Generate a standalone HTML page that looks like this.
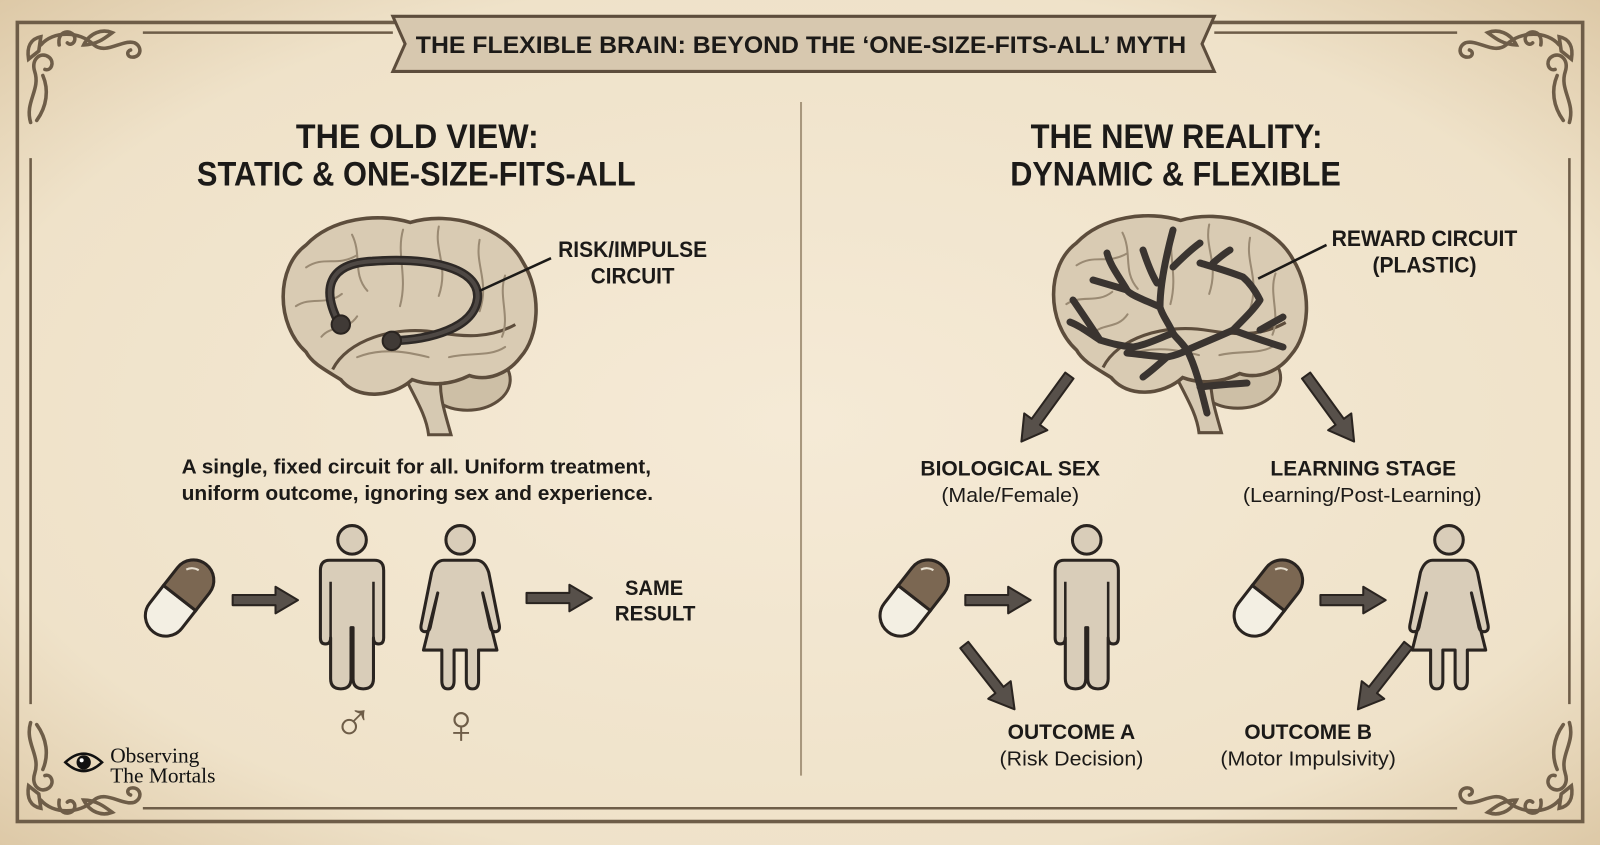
<!DOCTYPE html>
<html><head><meta charset="utf-8"><style>
html,body{margin:0;padding:0;width:1600px;height:845px;overflow:hidden;background:#efe3cd}
svg{display:block}
.h{font-family:"Liberation Sans",sans-serif;font-weight:bold;fill:#1c1a18;text-anchor:middle}
.n{font-family:"Liberation Sans",sans-serif;fill:#1c1a18;text-anchor:middle}
.orn{fill:none;stroke:#6e5d48;stroke-width:3.5;stroke-linecap:round}
.sul{fill:none;stroke:#9a8a73;stroke-width:2;stroke-linecap:round}
</style></head><body>
<svg width="1600" height="845" viewBox="0 0 1568 828" preserveAspectRatio="none" xmlns="http://www.w3.org/2000/svg">
<defs>
<radialGradient id="bg" cx="50%" cy="50%" r="75%">
<stop offset="0" stop-color="#f5ead6"/><stop offset="0.7" stop-color="#efe2c9"/><stop offset="1" stop-color="#d9c39f"/>
</radialGradient>
<g id="pill">
<g transform="rotate(-52)">
<path d="M0,-20 H-22 A20,20 0 0 0 -22,20 H0 Z" fill="#f3efe3" stroke="#2a2420" stroke-width="3"/>
<path d="M0,-20 H22 A20,20 0 0 1 22,20 H0 Z" fill="#7b6752" stroke="#2a2420" stroke-width="3"/>
<path d="M26,-12 A12,12 0 0 1 33,-2" fill="none" stroke="#e8e0d0" stroke-width="2"/>
</g>
</g>
<g id="man" fill="#d9cdb9" stroke="#2a2420" stroke-width="3" stroke-linejoin="round">
<circle cx="0" cy="14" r="14"/>
<path d="M-22,34 H22 Q31,34 31,44 V110 Q31,116 26,116 Q21,116 21,110 V150 Q21,160 11,160 Q1,160 1,150 V100 H-1 V150 Q-1,160 -11,160 Q-21,160 -21,150 V110 Q-21,116 -26,116 Q-31,116 -31,110 V44 Q-31,34 -22,34 Z"/>
<path d="M-21,55 V110 M21,55 V110" fill="none" stroke-width="2.5"/>
</g>
<g id="woman" fill="#d9cdb9" stroke="#2a2420" stroke-width="3" stroke-linejoin="round">
<circle cx="0" cy="14" r="14"/>
<path d="M-16,34 H16 Q24,34 28,46 L38,96 Q40,104 34,104 Q30,104 29,98 L22,66 L36,122 H18 V152 Q18,160 12,160 Q6,160 6,152 V122 H-6 V152 Q-6,160 -12,160 Q-18,160 -18,152 V122 H-36 L-22,66 L-29,98 Q-30,104 -34,104 Q-40,104 -38,96 L-28,46 Q-24,34 -16,34 Z"/>
</g>
<g id="arr">
<path d="M0,-5 H42 V-13 L64,0 L42,13 V5 H0 Z" fill="#57504a" stroke="#2a2420" stroke-width="2" stroke-linejoin="round"/>
</g>
<g id="arrL">
<path d="M0,-5 H56 V-14 L80,0 L56,14 V5 H0 Z" fill="#57504a" stroke="#2a2420" stroke-width="2" stroke-linejoin="round"/>
</g>
<g id="corner">
<path class="orn" d="M30,120 C24,100 40,88 34,70 C30,58 40,50 48,56 C54,61 50,70 44,68"/>
<path class="orn" d="M36,118 C46,104 48,88 42,74"/>
<path class="orn" d="M40,44 C52,30 78,30 92,44 C104,54 120,38 132,42 C140,46 138,56 130,56 C124,56 124,50 128,49"/>
<path class="orn" d="M58,44 C56,32 66,28 72,34 C76,40 70,46 66,42"/>
<path class="orn" d="M28,58 C26,46 30,38 40,36 L38,50 Z"/>
<path class="orn" d="M82,44 C88,32 100,28 110,32 C102,38 94,44 82,44 Z"/>
</g>
<g id="brain">
<ellipse cx="458" cy="372" rx="42" ry="30" fill="#cdbfa6" stroke="#5d4d3c" stroke-width="3"/>
<path d="M396,368 C408,392 418,408 420,426 L442,426 C436,404 430,388 432,368 Z" fill="#d6c9b2" stroke="#5d4d3c" stroke-width="3"/>
<path d="M300,345 C270,318 270,262 300,240 C325,214 370,208 402,218 C442,206 494,222 512,256 C532,288 528,330 510,350 C498,366 478,374 460,368 C440,378 420,378 404,372 C384,390 350,392 334,372 C318,362 306,356 300,345 Z" fill="#d9cbb3" stroke="#5d4d3c" stroke-width="3.5"/>
<path d="M326,362 C340,334 385,318 430,326 C455,330 480,332 505,318" fill="none" stroke="#5d4d3c" stroke-width="3"/>
<path class="sul" d="M300,262 C318,250 330,262 350,250 M290,300 C305,290 320,300 335,288 M345,230 C355,250 345,268 360,285 M395,225 C388,250 400,270 392,300 M430,222 C425,245 440,260 430,290 M470,235 C465,260 480,275 470,305 M495,270 C488,290 500,310 492,330 M350,350 C375,340 400,345 420,350 M440,350 C460,345 480,350 495,340 M315,330 C325,318 340,325 350,310"/>
</g>
</defs>
<rect x="0" y="0" width="1568" height="828" fill="url(#bg)"/>
<rect x="17" y="22" width="1534" height="783" fill="none" stroke="#6e5d48" stroke-width="3.5"/>
<path d="M140,32 H385 M1190,32 H1428 M30,155 V690 M1538,155 V690 M140,792 H1428" stroke="#6e5d48" stroke-width="2.5" fill="none"/>
<use href="#corner"/>
<use href="#corner" transform="translate(1568,0) scale(-1,1)"/>
<use href="#corner" transform="translate(0,828) scale(1,-1)"/>
<use href="#corner" transform="translate(1568,828) scale(-1,-1)"/>
<path d="M385,16 H1190 L1178,43 L1190,70 H385 L397,43 Z" fill="#d7c8af" stroke="#5d4d3c" stroke-width="3"/>
<text x="785" y="52" class="h" font-size="24" textLength="755" lengthAdjust="spacingAndGlyphs">THE FLEXIBLE BRAIN: BEYOND THE ‘ONE-SIZE-FITS-ALL’ MYTH</text>
<line x1="785" y1="100" x2="785" y2="760" stroke="#a8977d" stroke-width="2"/>
<text x="409" y="145" class="h" font-size="34" textLength="238" lengthAdjust="spacingAndGlyphs">THE OLD VIEW:</text>
<text x="408" y="182" class="h" font-size="34" textLength="430" lengthAdjust="spacingAndGlyphs">STATIC &amp; ONE-SIZE-FITS-ALL</text>
<use href="#brain"/>
<path d="M333,318 C315,285 320,258 365,256 C420,252 470,262 468,292 C465,322 420,333 384,334" fill="none" stroke="#2e2926" stroke-width="9" stroke-linecap="round"/>
<path d="M333,318 C315,285 320,258 365,256 C420,252 470,262 468,292 C465,322 420,333 384,334" fill="none" stroke="#4e4844" stroke-width="4" stroke-linecap="round"/>
<circle cx="334" cy="318" r="9" fill="#403a36" stroke="#2a2420" stroke-width="2"/>
<circle cx="384" cy="334" r="9" fill="#403a36" stroke="#2a2420" stroke-width="2"/>
<line x1="470" y1="285" x2="540" y2="253" stroke="#1c1a18" stroke-width="2.5"/>
<text x="620" y="252" class="h" font-size="22" textLength="146" lengthAdjust="spacingAndGlyphs">RISK/IMPULSE</text>
<text x="620" y="278" class="h" font-size="22" textLength="82" lengthAdjust="spacingAndGlyphs">CIRCUIT</text>
<text x="408" y="464" class="h" font-size="20" textLength="460" lengthAdjust="spacingAndGlyphs">A single, fixed circuit for all. Uniform treatment,</text>
<text x="409" y="490" class="h" font-size="20" textLength="462" lengthAdjust="spacingAndGlyphs">uniform outcome, ignoring sex and experience.</text>
<use href="#pill" transform="translate(176,586)"/>
<use href="#arr" transform="translate(228,588)"/>
<use href="#man" transform="translate(345,515)"/>
<use href="#woman" transform="translate(451,515)"/>
<use href="#arr" transform="translate(516,586)"/>
<text x="641" y="583" class="h" font-size="21" textLength="57" lengthAdjust="spacingAndGlyphs">SAME</text>
<text x="642" y="608" class="h" font-size="21" textLength="79" lengthAdjust="spacingAndGlyphs">RESULT</text>
<text x="346" y="726" class="n" font-size="54" style="fill:#6e5d48">♂</text>
<text x="452" y="728" class="n" font-size="54" style="fill:#6e5d48">♀</text>
<path d="M64,747 Q82,730 100,747 Q82,764 64,747 Z" fill="none" stroke="#111" stroke-width="2.5"/>
<circle cx="82" cy="747" r="7" fill="#111"/><circle cx="80" cy="745" r="2" fill="#fff"/>
<text x="108" y="747" font-family="'Liberation Serif',serif" font-size="21" fill="#111">Observing</text>
<text x="108" y="767" font-family="'Liberation Serif',serif" font-size="21" fill="#111">The Mortals</text>
<text x="1153" y="145" class="h" font-size="34" textLength="286" lengthAdjust="spacingAndGlyphs">THE NEW REALITY:</text>
<text x="1152" y="182" class="h" font-size="34" textLength="324" lengthAdjust="spacingAndGlyphs">DYNAMIC &amp; FLEXIBLE</text>
<use href="#brain" transform="translate(755,-2)"/>
<g transform="scale(0.98)" fill="none" stroke="#3a3430" stroke-width="7" stroke-linecap="round" stroke-linejoin="round">
<path d="M1207,413 C1200,385 1195,365 1187,350 C1180,340 1175,337 1173,333 C1168,322 1162,315 1160,307 C1160,285 1165,260 1173,230 M1160,307 C1145,300 1130,295 1127,290 C1118,275 1110,265 1107,253 M1127,290 C1110,285 1100,282 1093,280 M1173,333 C1155,340 1145,345 1133,347 C1120,346 1110,343 1100,340 C1090,325 1080,310 1073,300 M1100,340 C1085,330 1078,325 1070,322 M1187,350 C1205,342 1220,336 1233,330 C1245,318 1255,308 1260,300 C1255,290 1250,283 1243,277 C1225,270 1210,266 1200,263 M1233,330 C1255,338 1270,343 1283,347 M1260,330 C1270,324 1278,320 1283,317 M1187,350 C1180,354 1172,356 1167,357 C1150,356 1138,354 1127,353 M1167,357 C1158,365 1150,372 1143,377 M1200,387 C1215,385 1232,384 1247,383 M1173,267 C1185,255 1193,248 1200,243 M1143,250 C1148,265 1152,275 1157,283 M1213,263 C1220,257 1225,253 1230,250"/>
</g>
<line x1="1233" y1="273" x2="1300" y2="240" stroke="#1c1a18" stroke-width="2.5"/>
<text x="1396" y="241" class="h" font-size="22" textLength="182" lengthAdjust="spacingAndGlyphs">REWARD CIRCUIT</text>
<text x="1396" y="267" class="h" font-size="22" textLength="102" lengthAdjust="spacingAndGlyphs">(PLASTIC)</text>
<use href="#arrL" transform="translate(1048,368) rotate(126)"/>
<use href="#arrL" transform="translate(1280,368) rotate(54)"/>
<text x="990" y="466" class="h" font-size="21" textLength="176" lengthAdjust="spacingAndGlyphs">BIOLOGICAL SEX</text>
<text x="990" y="492" class="n" font-size="20" textLength="135" lengthAdjust="spacingAndGlyphs">(Male/Female)</text>
<text x="1336" y="466" class="h" font-size="21" textLength="182" lengthAdjust="spacingAndGlyphs">LEARNING STAGE</text>
<text x="1335" y="492" class="n" font-size="20" textLength="234" lengthAdjust="spacingAndGlyphs">(Learning/Post-Learning)</text>
<use href="#pill" transform="translate(896,586)"/>
<use href="#arr" transform="translate(946,588)"/>
<use href="#man" transform="translate(1065,515)"/>
<use href="#arrL" transform="translate(945,632) rotate(52)"/>
<text x="1050" y="724" class="h" font-size="21" textLength="125" lengthAdjust="spacingAndGlyphs">OUTCOME A</text>
<text x="1050" y="750" class="n" font-size="20" textLength="141" lengthAdjust="spacingAndGlyphs">(Risk Decision)</text>
<use href="#pill" transform="translate(1243,586)"/>
<use href="#arr" transform="translate(1294,588)"/>
<use href="#woman" transform="translate(1420,515)"/>
<use href="#arrL" transform="translate(1380,632) rotate(128)"/>
<text x="1282" y="724" class="h" font-size="21" textLength="125" lengthAdjust="spacingAndGlyphs">OUTCOME B</text>
<text x="1282" y="750" class="n" font-size="20" textLength="172" lengthAdjust="spacingAndGlyphs">(Motor Impulsivity)</text>
</svg>
</body></html>
